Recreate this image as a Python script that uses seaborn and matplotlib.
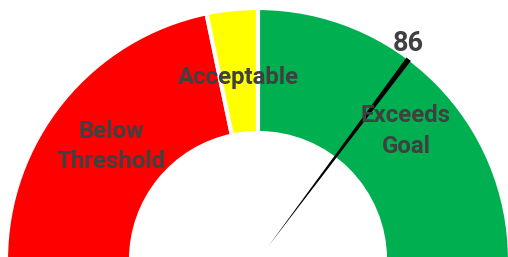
import numpy as np
import matplotlib
matplotlib.use("Agg")
import matplotlib.pyplot as plt
from matplotlib.patches import Wedge, Polygon
import seaborn as sns

# gauge data
scale_min = 0
scale_max = 122
band_starts = [0, 53, 61]
band_ends = [53, 61, 122]
band_labels = ["Below\nThreshold", "Acceptable", "Exceeds\nGoal"]
value = 86

band_colors = ["#FF0000", "#FFFF00", "#00B050"]
text_color = "#404040"
label_nudge = [(0.0, -0.022), (0.0, -0.022), (0.058, -0.018)]

sns.set_theme(style="white")
plt.rcParams['font.family'] = ['Roboto', 'DejaVu Sans']


def to_angle(v):
    return 180.0 - 180.0 * (v - scale_min) / (scale_max - scale_min)


fig = plt.figure(figsize=(5.08, 2.57), dpi=100)
ax = fig.add_axes([0, 0, 1, 1])
ax.set_xlim(-1.032, 1.0)
ax.set_ylim(0.012, 1.04)
ax.set_aspect('equal')
ax.axis('off')

r_out, r_in = 1.008, 0.508
for start, end, color, label, (nx, ny) in zip(band_starts, band_ends, band_colors,
                                               band_labels, label_nudge):
    a0, a1 = to_angle(end), to_angle(start)
    ax.add_patch(Wedge((0, 0), r_out, a0, a1, width=r_out - r_in,
                       facecolor=color, edgecolor='white', linewidth=3))
    mid = np.radians((a0 + a1) / 2)
    rl = 0.755
    ax.text(rl * np.cos(mid) + nx, rl * np.sin(mid) + ny, label, ha='center', va='center',
            fontsize=17.3, fontweight='bold', color=text_color, linespacing=1.42)

# needle
th = np.radians(to_angle(value))
d = np.array([np.cos(th), np.sin(th)])
p = np.array([-np.sin(th), np.cos(th)])
base = 0.068 * d
tip = 1.004 * d
hw = 0.011
ax.add_patch(Polygon([base, tip + hw * p, tip - hw * p], closed=True,
                     facecolor='black', edgecolor='none'))
ax.text(tip[0] - 0.002, tip[1] + 0.01, f"{value}", ha='center', va='bottom',
        fontsize=19.5, fontweight='bold', color=text_color)

fig.savefig("out.png", dpi=100)
